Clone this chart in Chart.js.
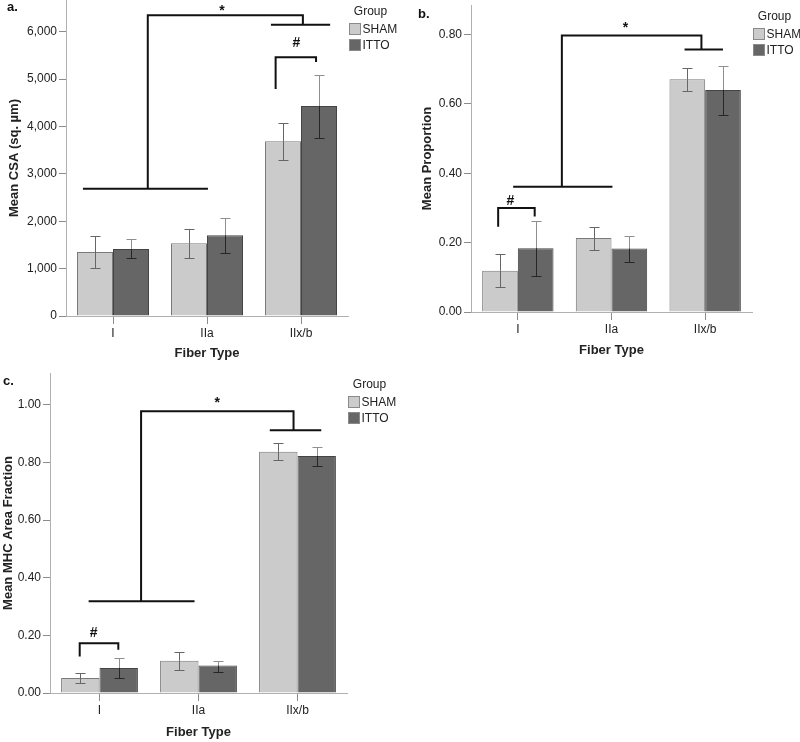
<!DOCTYPE html>
<html>
<head>
<meta charset="utf-8">
<script src="https://cdn.jsdelivr.net/npm/chart.js@4.4.0/dist/chart.umd.min.js"></script>
<style>
  body { margin: 0; background: #fff; width: 800px; height: 742px; position: relative; overflow: hidden; }
  .panel { position: absolute; }
</style>
</head>
<body>
<div class="panel" style="left:0;top:0;width:400px;height:361px"><canvas id="chartA"></canvas></div>
<div class="panel" style="left:400px;top:0;width:400px;height:360px"><canvas id="chartB"></canvas></div>
<div class="panel" style="left:0;top:360px;width:400px;height:382px"><canvas id="chartC"></canvas></div>
<script>
// fiber types and groups
const fiberTypes = ["I", "IIa", "IIx/b"];
const groups = ["SHAM", "ITTO"];

// y tick values per panel
const csaTicks = [0, 1000, 2000, 3000, 4000, 5000, 6000];
const propTicks = [0, 0.2, 0.4, 0.6, 0.8];
const mhcTicks = [0, 0.2, 0.4, 0.6, 0.8, 1.0];

// a. mean CSA (sq. µm), error bar top / bottom
const csaSham = [1350, 1533, 3685];
const csaShamHi = [1690, 1842, 4078];
const csaShamLo = [1013, 1217, 3285];
const csaItto = [1413, 1702, 4430];
const csaIttoHi = [1624, 2067, 5091];
const csaIttoLo = [1217, 1336, 3755];

// b. mean proportion
const propSham = [0.119, 0.213, 0.671];
const propShamHi = [0.167, 0.246, 0.703];
const propShamLo = [0.071, 0.179, 0.636];
const propItto = [0.184, 0.183, 0.640];
const propIttoHi = [0.262, 0.219, 0.708];
const propIttoLo = [0.103, 0.145, 0.568];

// c. mean MHC area fraction
const mhcSham = [0.052, 0.112, 0.837];
const mhcShamHi = [0.069, 0.143, 0.868];
const mhcShamLo = [0.035, 0.081, 0.809];
const mhcItto = [0.087, 0.095, 0.822];
const mhcIttoHi = [0.121, 0.112, 0.855];
const mhcIttoLo = [0.052, 0.074, 0.788];

// significance brackets (x in category units, y in axis units)
const csaStar = { text: "*", baseFrom: -0.32, baseTo: 1.01, baseY: 2686, stem: 0.37, topY: 6344, drop: 2.02, endY: 6146, endFrom: 1.68, endTo: 2.31, textX: 1.16, textY: 6360 };
const csaHash = { text: "#", from: 1.73, to: 2.16, leftY: 4789, topY: 5458, rightY: 5359, textX: 1.95, textY: 5675 };
const propStar = { text: "*", baseFrom: -0.05, baseTo: 1.01, baseY: 0.361, stem: 0.47, topY: 0.797, drop: 1.96, endY: 0.757, endFrom: 1.78, endTo: 2.19, textX: 1.15, textY: 0.808 };
const propHash = { text: "#", from: -0.21, to: 0.18, leftY: 0.246, topY: 0.300, rightY: 0.275, textX: -0.08, textY: 0.309 };
const mhcStar = { text: "*", baseFrom: -0.11, baseTo: 0.96, baseY: 0.318, stem: 0.42, topY: 0.977, drop: 1.96, endY: 0.911, endFrom: 1.72, endTo: 2.24, textX: 1.19, textY: 0.991 };
const mhcHash = { text: "#", from: -0.20, to: 0.19, leftY: 0.127, topY: 0.173, rightY: 0.150, textX: -0.06, textY: 0.195 };

const FONT = "'Liberation Sans', Arial, sans-serif";
Chart.defaults.font.family = FONT;
Chart.defaults.font.size = 12;
Chart.defaults.color = "#222";

function seg(ctx, pts) {
  ctx.beginPath();
  ctx.moveTo(pts[0][0], pts[0][1]);
  for (let i = 1; i < pts.length; i++) ctx.lineTo(pts[i][0], pts[i][1]);
  ctx.stroke();
}

// whiskers drawn from the dataset's hi/lo arrays
const errorBars = {
  id: "errorBars",
  afterDatasetsDraw(chart) {
    const ctx = chart.ctx, y = chart.scales.y;
    chart.data.datasets.forEach((ds, di) => {
      chart.getDatasetMeta(di).data.forEach((bar, i) => {
        const x = Math.round(bar.x) + 0.5;
        const top = Math.round(y.getPixelForValue(ds.hi[i])) + 0.5;
        const bot = Math.round(y.getPixelForValue(ds.lo[i])) + 0.5;
        const mid = bar.y;
        ctx.save();
        ctx.lineWidth = 1;
        ctx.strokeStyle = ds.errOut;
        seg(ctx, [[x, top], [x, mid]]);
        seg(ctx, [[x - 5, top], [x + 5, top]]);
        ctx.strokeStyle = ds.errIn;
        seg(ctx, [[x, mid], [x, bot]]);
        seg(ctx, [[x - 5, bot], [x + 5, bot]]);
        ctx.restore();
      });
    });
  }
};

// brackets, marks, legend and panel tag
const extras = {
  id: "extras",
  afterDraw(chart, args, opts) {
    const ctx = chart.ctx, xs = chart.scales.x, ys = chart.scales.y, ca = chart.chartArea;
    const px = u => xs.getPixelForValue(u), py = v => ys.getPixelForValue(v);
    ctx.save();
    ctx.strokeStyle = "#111";
    ctx.lineWidth = 2;
    const s = opts.star;
    seg(ctx, [[px(s.baseFrom), py(s.baseY)], [px(s.baseTo), py(s.baseY)]]);
    seg(ctx, [[px(s.stem), py(s.baseY)], [px(s.stem), py(s.topY)], [px(s.drop), py(s.topY)], [px(s.drop), py(s.endY)]]);
    seg(ctx, [[px(s.endFrom), py(s.endY)], [px(s.endTo), py(s.endY)]]);
    const h = opts.hash;
    seg(ctx, [[px(h.from), py(h.leftY)], [px(h.from), py(h.topY)], [px(h.to), py(h.topY)], [px(h.to), py(h.rightY)]]);
    ctx.fillStyle = "#111";
    ctx.font = "bold 14px " + FONT;
    ctx.textAlign = "center";
    ctx.textBaseline = "alphabetic";
    ctx.fillText(s.text, px(s.textX), py(s.textY));
    ctx.fillText(h.text, px(h.textX), py(h.textY));

    // legend
    const bx = Math.round(ca.right) + 1.5, ty = ca.top + 12;
    ctx.font = "12px " + FONT;
    ctx.textBaseline = "middle";
    ctx.fillStyle = "#222";
    ctx.fillText("Group", bx + 21, ty);
    ctx.textAlign = "left";
    ctx.lineWidth = 1;
    chart.data.datasets.forEach((ds, i) => {
      const yy = Math.round(ty + 11 + 16 * i) + 0.5;
      ctx.fillStyle = ds.backgroundColor;
      ctx.fillRect(bx, yy, 11, 11);
      ctx.strokeStyle = "#8a8a8a";
      ctx.strokeRect(bx, yy, 11, 11);
      ctx.fillStyle = "#222";
      ctx.fillText(ds.label, bx + 13, yy + 6);
    });

    // panel tag
    ctx.font = "bold 13px " + FONT;
    ctx.textBaseline = "alphabetic";
    ctx.fillStyle = "#111";
    ctx.fillText(opts.tag.text, opts.tag.x, opts.tag.y);
    ctx.restore();
  }
};

function makeChart(id, c) {
  return new Chart(document.getElementById(id), {
    type: "bar",
    data: {
      labels: fiberTypes,
      datasets: [
        { label: groups[0], data: c.sham, hi: c.shamHi, lo: c.shamLo, backgroundColor: "#cbcbcb", borderColor: "#7a7a7a", errOut: "#666666", errIn: "#666666" },
        { label: groups[1], data: c.itto, hi: c.ittoHi, lo: c.ittoLo, backgroundColor: "#666666", borderColor: "#444444", errOut: "#8f8f8f", errIn: "#262626" }
      ]
    },
    options: {
      responsive: true,
      maintainAspectRatio: false,
      animation: false,
      layout: { padding: { left: 0, right: c.padRight, top: c.padTop, bottom: 0 } },
      datasets: { bar: { borderWidth: 1, categoryPercentage: c.catPct, barPercentage: 1 } },
      plugins: {
        legend: { display: false },
        tooltip: { enabled: false },
        extras: { star: c.star, hash: c.hash, tag: c.tag }
      },
      scales: {
        x: {
          grid: { display: true, drawOnChartArea: false, drawTicks: true, tickLength: 8, offset: false, color: "#8c8c8c" },
          border: { color: "#b0b0b0" },
          ticks: { padding: 2, font: { size: 12 } },
          title: { display: true, text: "Fiber Type", font: { size: 13, weight: "bold" }, padding: { top: 0, bottom: c.xTitlePad } },
          afterFit: sc => { sc.height = c.xHeight; sc.paddingLeft = 0; sc.paddingRight = 0; }
        },
        y: {
          min: 0,
          max: c.max,
          grid: { display: true, drawOnChartArea: false, drawTicks: true, tickLength: 7, color: "#8c8c8c" },
          border: { color: "#b0b0b0" },
          ticks: { padding: 2, callback: c.fmt },
          afterBuildTicks: sc => { sc.ticks = c.ticks.map(v => ({ value: v })); },
          title: { display: true, text: c.yTitle, font: { size: 13, weight: "bold" }, padding: { top: c.yTitlePad, bottom: 0 } },
          afterFit: sc => { sc.width = c.yWidth; sc.paddingTop = 0; sc.paddingBottom = 0; }
        }
      }
    },
    plugins: [errorBars, extras]
  });
}

const fmtComma = v => Number(v).toLocaleString("en-US");
const fmt2 = v => Number(v).toFixed(2);

makeChart("chartA", {
  sham: csaSham, shamHi: csaShamHi, shamLo: csaShamLo,
  itto: csaItto, ittoHi: csaIttoHi, ittoLo: csaIttoLo,
  max: 6667, ticks: csaTicks, fmt: fmtComma, yTitle: "Mean CSA (sq. µm)",
  yWidth: 66, yTitlePad: 7, xHeight: 45, xTitlePad: 0, padRight: 52, padTop: 0, catPct: 0.766,
  star: csaStar, hash: csaHash, tag: { text: "a.", x: 7, y: 11 }
});

makeChart("chartB", {
  sham: propSham, shamHi: propShamHi, shamLo: propShamLo,
  itto: propItto, ittoHi: propIttoHi, ittoLo: propIttoLo,
  max: 0.885, ticks: propTicks, fmt: fmt2, yTitle: "Mean Proportion",
  yWidth: 71, yTitlePad: 20, xHeight: 48, xTitlePad: 2, padRight: 48, padTop: 5, catPct: 0.762,
  star: propStar, hash: propHash, tag: { text: "b.", x: 18, y: 18 }
});

makeChart("chartC", {
  sham: mhcSham, shamHi: mhcShamHi, shamLo: mhcShamLo,
  itto: mhcItto, ittoHi: mhcIttoHi, ittoLo: mhcIttoLo,
  max: 1.11, ticks: mhcTicks, fmt: fmt2, yTitle: "Mean MHC Area Fraction",
  yWidth: 50, yTitlePad: 1, xHeight: 49, xTitlePad: 2, padRight: 53, padTop: 13, catPct: 0.776,
  star: mhcStar, hash: mhcHash, tag: { text: "c.", x: 3, y: 25 }
});
</script>
</body>
</html>
